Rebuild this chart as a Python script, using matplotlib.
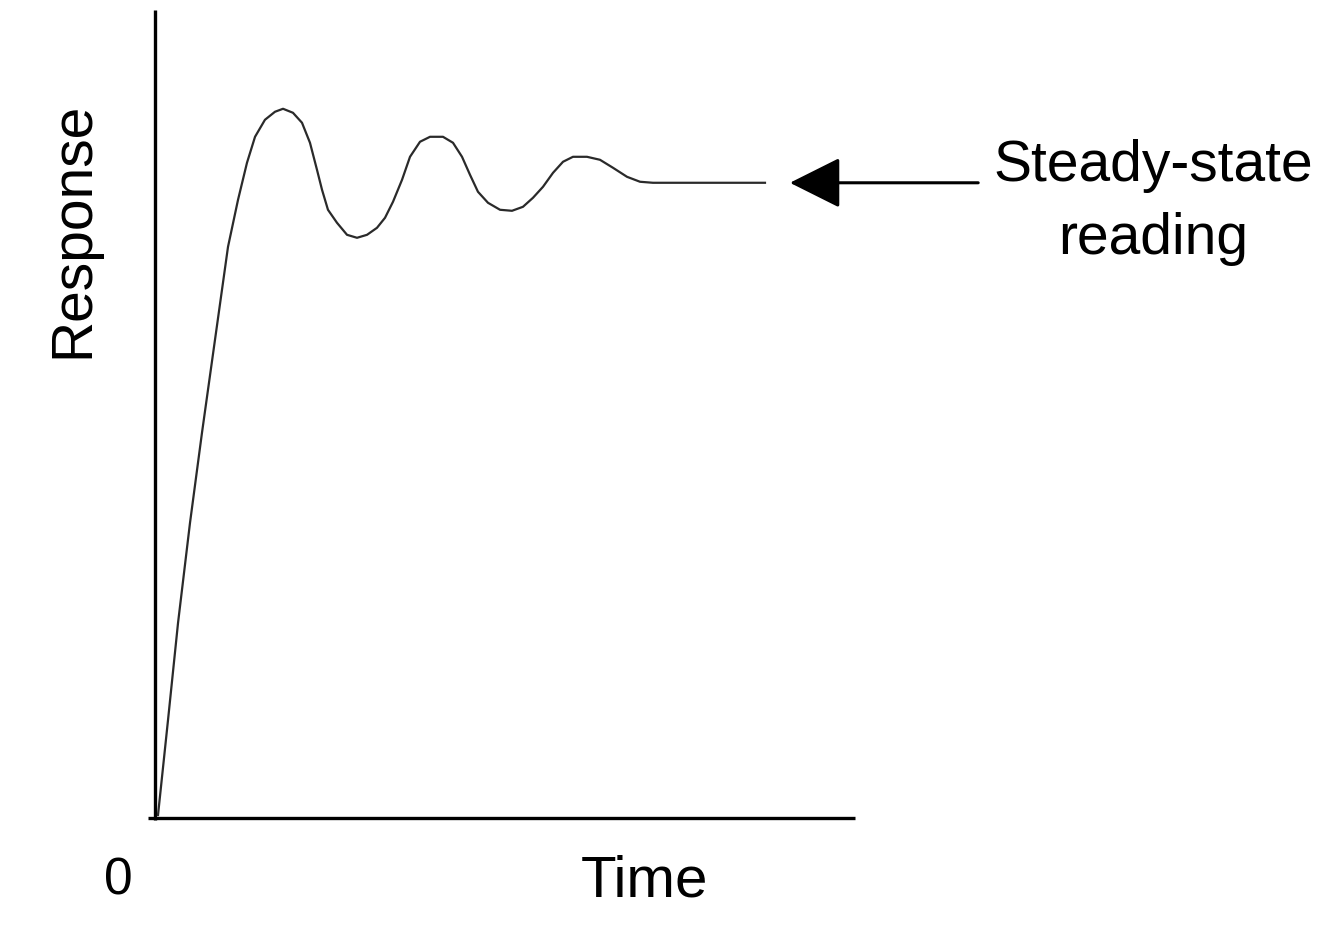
import matplotlib
matplotlib.use("Agg")
import matplotlib.pyplot as plt

plt.rcParams["font.family"] = ["Liberation Sans", "DejaVu Sans"]

# response curve (time, response), steady state = 100
time = [0.43, 1.86, 3.29, 5.00, 6.71, 8.57, 10.43, 11.86, 13.14, 14.29,
        15.71, 17.14, 18.29, 19.71, 21.00, 22.14, 23.14, 23.86, 24.71, 26.00,
        27.43, 28.86, 30.29, 31.71, 32.86, 34.00, 35.29, 36.43, 37.86, 39.29,
        41.14, 42.57, 43.86, 45.00, 46.14, 47.57, 49.29, 51.00, 52.57, 54.00,
        55.43, 56.86, 58.29, 59.71, 61.71, 63.57, 65.43, 67.43, 69.29, 71.14,
        87.14]
response = [0.47, 15.43, 30.71, 46.46, 60.63, 75.28, 89.92, 97.32, 103.15, 107.24,
            109.92, 111.18, 111.65, 111.02, 109.45, 106.30, 102.05, 98.90, 95.75, 93.70,
            91.81, 91.34, 91.81, 92.91, 94.49, 97.01, 100.47, 104.09, 106.46, 107.24,
            107.24, 106.30, 104.09, 101.26, 98.58, 96.85, 95.75, 95.59, 96.22, 97.64,
            99.37, 101.57, 103.31, 104.09, 104.09, 103.62, 102.36, 100.94, 100.16, 100.0,
            100.0]

steady_value = 100.0
x_label = "Time"
y_label = "Response"
origin_label = "0"
note_lines = ["Steady-state", "reading"]

fig = plt.figure(figsize=(13.2, 9.51), dpi=100)
ax = fig.add_axes([155 / 1320, 133 / 951, 700 / 1320, 808 / 951])
ax.set_xlim(0, 100)
ax.set_ylim(0, 127.2)
ax.axis("off")

# axes lines
ax.plot([-1.0, 100], [0, 0], color="black", lw=2.4, clip_on=False, solid_capstyle="butt")
ax.plot([0, 0], [-0.3, 127.2], color="black", lw=2.4, clip_on=False, solid_capstyle="butt")

ax.plot(time, response, color="#2a2a2a", lw=1.6, clip_on=False,
        solid_joinstyle="round")

# arrow pointing at the steady-state line
ax.annotate("", xy=(90.7, steady_value), xytext=(117.6, steady_value),
            annotation_clip=False,
            arrowprops=dict(arrowstyle="-|>,head_length=0.8,head_width=0.4",
                            mutation_scale=40, color="black", lw=2.2,
                            shrinkA=0, shrinkB=0))

fs = 41
ax.text(142.6, 100.3, note_lines[0], fontsize=fs, ha="center", va="baseline", clip_on=False)
ax.text(142.6, 88.8, note_lines[1], fontsize=fs, ha="center", va="baseline", clip_on=False)

ax.text(-11.6, 92.6, y_label, fontsize=fs, rotation=90, ha="center", va="center", clip_on=False)
ax.text(-5.3, -12.1, origin_label, fontsize=37, ha="center", va="baseline", clip_on=False)
ax.text(70.0, -12.4, x_label, fontsize=42, ha="center", va="baseline", clip_on=False)

fig.savefig("out.png", dpi=100, facecolor="white")
